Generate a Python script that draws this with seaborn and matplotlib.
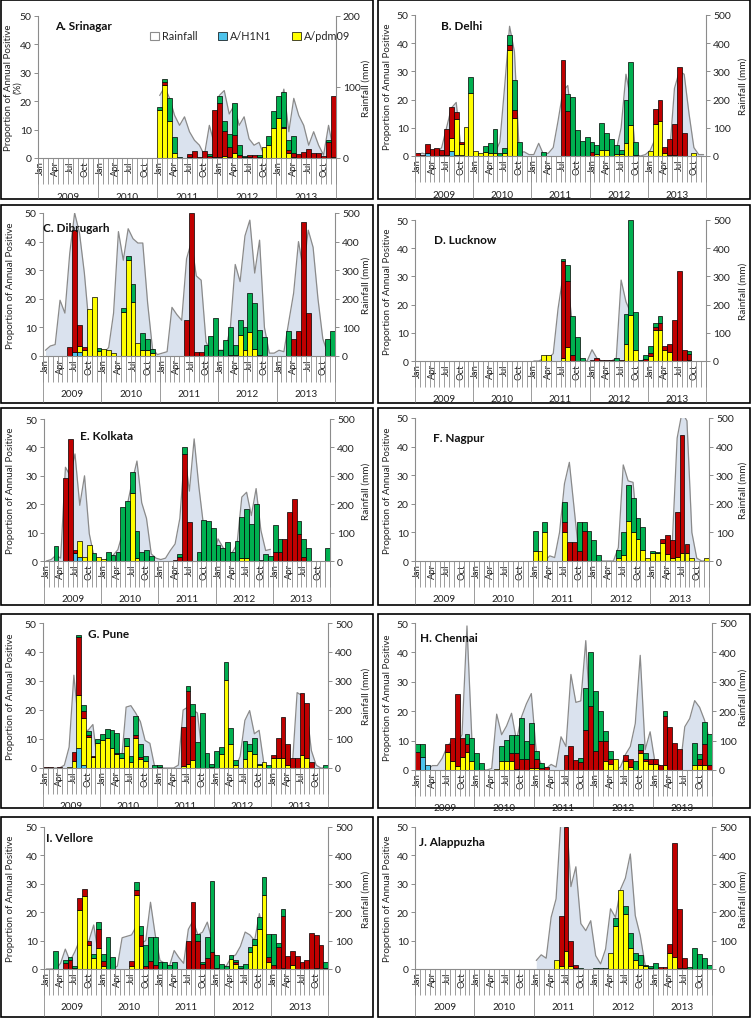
import numpy as np
import pandas as pd
import matplotlib
matplotlib.use("Agg")
import matplotlib.pyplot as plt
import seaborn as sns
from matplotlib.patches import Patch, Rectangle

nan = float("nan")

YEARS = ["2009", "2010", "2011", "2012", "2013"]
MONTH_TICKS = ["Jan", "", "", "Apr", "", "", "Jul", "", "", "Oct", "", ""]
SERIES = ["A/H1N1", "A/pdm09", "A/H3N2", "B"]
COLORS = {"A/H1N1": "#4DC3EC", "A/pdm09": "#FFFF00", "A/H3N2": "#C00000", "B": "#00B050"}
RAIN_FILL = "#DAE2EE"
RAIN_LINE = "#8A8A8A"
GREY = "#8C8C8C"

# ---------------- A. Srinagar ----------------
SRI_H1 = [0,0,0,0,0,0,0,0,0,0,0,0,
          0,0,0,0,0,0,0,0,0,0,0,0,
          0,0,0,0,0,0,0,0,0,0,0,0,
          0,0,0,0,0,0,0,0,0,0,0,0,
          0,0,0,0,0,0,0,0,0,0,0,0]
SRI_PDM = [0,0,0,0,0,0,0,0,0,0,0,0,
           0,0,0,0,0,0,0,0,0,0,0,0,
           16.8,25.8,13.0,1.7,0,0,0.3,0,0,0,0,0.5,
           0.5,0.8,0.5,1.8,0,0,0.5,0,0,3.8,4.5,10.5,
           14.0,10.7,1.7,0.3,0,0,0,0,0,0,0,0.5]
SRI_H3 = [0,0,0,0,0,0,0,0,0,0,0,0,
          0,0,0,0,0,0,0,0,0,0,0,0,
          0,0.8,0,0,0,0,1.2,2.3,0.5,2.4,0.7,16.5,
          19.0,8.7,3.5,6.2,1.0,0.3,0.5,1.2,0.5,0,0,0,
          0,0.3,1.1,1.5,1.5,2.2,3.0,1.8,1.8,0.8,5.5,21.3]
SRI_B = [0,0,0,0,0,0,0,0,0,0,0,0,
         0,0,0,0,0,0,0,0,0,0,0,0,
         1.2,1.3,8.1,5.8,0.5,0,0,0,0,0,0.8,0,
         2.5,3.5,4.5,11.3,3.5,0.5,0,0,0.5,0,3.3,6.2,
         7.8,12.2,3.5,6.0,0,0,0,0,0,0,0.8,0]
SRI_RAIN = [nan,nan,nan,nan,nan,nan,nan,nan,nan,nan,nan,nan,
            nan,nan,nan,nan,nan,nan,nan,nan,nan,nan,nan,nan,
            88,100,84,60,46,58,37,25,18,4,46,20,
            88,95,62,74,46,58,27,18,22,4,15,27,
            65,97,37,84,60,46,18,37,18,4,46,10]

# ---------------- B. Delhi ----------------
DEL_H1 = [0,0,1.0,0,0,0.5,0,1.8,0.5,0.5,0,0,
          0,0,0,0,0,0,0,0,0,0,0,0,
          0,0,0,0,0,0,0,0,0,0,0,0,
          0,0,0,0,0,0,0,0,0,0,0,0,
          0,0,0,0,0,0,0,0,0,0,0,0]
DEL_PDM = [0,0,0,0,0,0,0.5,4.7,12.5,3.8,10.3,22.5,
           1.8,1.2,1.5,1.0,1.0,0,1.0,37.5,13.5,0,0,0,
           0,0,0,0,0,0,0,0,0,0,0,0,
           0,0.8,2.0,2.0,0,0.8,0.8,4.7,11.0,0.5,0,0,
           1.8,11.3,12.5,1.0,0.5,0.5,0,0,0,1.0,0,0]
DEL_H3 = [1.0,0.5,3.3,2.5,2.8,1.5,9.1,11.0,2.5,0.7,0,0,
          0,0,0,0,0,0,0,2.0,2.7,0,0,0,
          0,0,0,0,0,0,34.0,16.0,0,0,0,0,
          1.5,0,0,0,0,0,0,0,0,0,0,0,
          0,5.3,7.2,2.2,5.7,11.0,31.5,8.0,0,0,0,0]
DEL_B = [0,0,0,0,0,0,0,0,0,0,0,5.6,
         0,0,2.0,3.7,8.5,1.0,1.8,3.3,10.8,4.8,0,0,
         0,0,1.5,0,0,0,0,6.0,21.0,9.3,5.2,6.6,
         3.3,3.2,9.8,6.0,6.2,3.2,1.5,15.3,22.5,4.3,0,0,
         0,0,0,0,0,0,0,0,0,0,0,0]
DEL_RAIN = [5,10,5,5,10,30,100,170,190,20,5,5,
            5,5,2,5,10,50,250,460,370,10,15,5,
            5,45,5,10,30,125,230,250,100,5,0,5,
            30,5,10,10,5,20,100,290,200,5,0,5,
            20,60,30,20,10,240,300,290,150,30,5,5]

# ---------------- C. Dibrugarh ----------------
DIB_H1 = [0,0,0,0,0,0,1.5,1.5,0,0,0,0,
          0,0,0,0,0,0,0,0,0,0,0,0,
          0,0,0,0,0,0,0,0,0,0,0,0,
          0,0,0,0,0,0,0,0,0,0,0,0,
          0,0,0,0,0,0,0,0,0,0,0,0]
DIB_PDM = [0,0,0,0,0,0,0,2.0,2.0,16.3,20.8,1.8,
           2.3,2.0,1.0,0,15.5,33.5,19.0,4.5,2.0,2.0,1.0,0,
           0,0,0,0,0,0,0,0,0,0,0,0,
           0,0,0.5,0.5,7.5,2.0,8.3,2.5,0.5,0,0,0,
           0,0,0,0,0,0,0,0,0,0,0,0]
DIB_H3 = [0,0,0,0,0,3.0,42.5,7.5,1.0,0,0,0,
          0,0,0,0,0,0,0,0,0,0,0,0,
          0,0,0,0,0,12.5,50.0,1.3,1.3,0,0,0,
          0,0,0,0,0,0,0,0,0,0,0,0,
          0,0,0,5.8,8.7,47.0,15.0,0,0,0,0,0]
DIB_B = [0,0,0,0,0,0,0,0,0,0,0,1.0,
         0,0,0,0,1.2,1.5,6.0,0,6.0,3.8,1.3,0,
         0,0,0,0,0,0,0,0,0,3.8,6.9,13.4,
         2.1,5.7,9.7,3.5,5.0,8.0,13.7,16.0,8.5,6.5,0,0,
         0,0,8.7,0,0,0,0,0,0,0,5.8,8.7]
DIB_RAIN = [20,35,40,195,150,360,500,430,290,100,10,10,
            10,30,150,435,335,445,410,395,395,185,25,5,
            10,15,170,145,125,340,400,280,265,50,10,20,
            20,20,100,320,260,420,475,290,405,100,10,10,
            20,15,120,220,400,300,440,380,200,60,10,5]

# ---------------- D. Lucknow ----------------
LKO_H1 = [0,0,0,0,0,0,0,0,0,0,0,0,
          0,0,0,0,0,0,0,0,0,0,0,0,
          0,0,0,0,0,0,0,0,0,0,0,0,
          0,0,0,0,0,0,0,0,0,0,0,0,
          0,0,0,0,0,0,0,0,0,0,0,0]
LKO_PDM = [0,0,0,0,0,0,0,0,0,0,0,0,
           0,0,0,0,0,0,0,0,0,0,0,0,
           0,0,2.0,2.0,0,0,1.0,5.0,0,0,0,0,
           0,0,0,0,0,0,0,6.0,16.3,3.8,0,0,
           1.8,11.0,11.0,4.0,3.3,0,0,0,0.5,0,0,0]
LKO_H3 = [0,0,0,0,0,0,0,0,0,0,0,0,
          0,0,0,0,0,0,0,0,0,0,0,0,
          0,0,0,0,0,0,34.3,23.5,2.0,0,0,0,
          0.5,1.0,0.5,0.5,0.5,0,0.3,0,0,0,0,0.8,
          1.2,1.0,2.5,1.3,2.7,14.5,32.0,4.0,2.0,0,0,0]
LKO_B = [0,0,0,0,0,0,0,0,0,0,0,0,
         0,0,0,0,0,0,0,0,0,0,0,0,
         0,0,0,0,0,0,0.7,5.5,14.0,8.5,1.0,0,
         0,0,0,0,0,1.0,0,10.7,33.7,13.6,0.5,1.4,
         2.3,1.6,2.5,0,0,0,0,0,0.9,0,0,0]
LKO_RAIN = [nan,nan,nan,nan,nan,nan,nan,nan,nan,nan,nan,nan,
            nan,nan,nan,nan,nan,nan,nan,nan,nan,nan,nan,nan,
            0,0,8,10,26,186,300,280,120,10,0,0,
            40,10,0,0,0,10,287,210,170,5,0,5,
            nan,nan,nan,nan,nan,nan,nan,nan,nan,nan,nan,nan]

# ---------------- E. Kolkata ----------------
KOL_H1 = [0,0,0,0,0,0,2.7,1.3,0,0,0,0,
          0,0,0,0,0,0,0,0,0,0,0,0,
          0,0,0,0,0,0,0,0,0,0,0,0,
          0,0,0,0,0,0,0,0,0,0,0,0,
          0,0,0,0,0,0,0,0,0,0,0,0]
KOL_PDM = [0,0,0,0,0,0,0,5.7,1.5,5.5,0,1.3,
           0.8,0,0,0,0,0,24.0,1.0,0,0,0,0,
           0,0,0,0,0,0,0,0,0,0,0,0,
           0,0,0,0,0,1.2,1.0,0,0,0,0,0,
           0,0,0,0,0,0,0,0,0,0,0,0]
KOL_H3 = [0,0,0,0,29.2,43.0,1.3,0,0,0,0,0,
          0,0,0,0,0,0,0,0,0,0,0,0,
          0,0,0,0.3,1.5,37.8,13.7,0,0,0,0,0,
          0,0,0,0,0,0,0,0,0,0,0,0,
          3.0,3.0,7.8,17.3,22.0,9.4,1.5,0,0,0,0,0]
KOL_B = [0,0,5.3,0,0,0,0,0,0,0,2.8,0,
         0,3.2,2.1,3.2,19.0,21.0,7.5,9.5,3.2,4.0,1.8,0,
         0,0,0,0,1.0,2.4,0,0,3.2,14.5,14.2,11.5,
         5.8,4.6,6.8,3.2,7.2,14.4,17.4,13.0,20.0,0.3,2.5,1.8,
         9.7,4.8,0,0,0,4.8,6.3,4.7,0,0,0,4.7]
KOL_RAIN = [0,5,20,10,330,300,377,196,300,96,14,0,
            0,10,20,40,100,200,280,352,205,150,25,10,
            5,10,37,60,150,380,246,430,260,120,10,5,
            78,49,20,30,60,225,242,160,255,108,37,41,
            nan,nan,nan,nan,nan,nan,nan,nan,nan,nan,nan,nan]

# ---------------- F. Nagpur ----------------
NAG_H1 = [0,0,0,0,0,0,0,0,0,0,0,0,
          0,0,0,0,0,0,0,0,0,0,0,0,
          0,0,0,0,0,0,0,0,0,0,0,0,
          0,0,0,0,0,0,0,0,0,0,0,0,
          0,0,0,0,0,0,0,0,0,0,0,0]
NAG_PDM = [0,0,0,0,0,0,0,0,0,0,0,0,
           0,0,0,0,0,0,0,0,0,0,0,0,
           3.5,3.5,10.3,0,0,0,10.3,0,0,0,0,0,
           0,0,0,0,0,1.0,2.0,14.0,10.0,7.8,3.8,1.0,
           2.8,2.8,6.2,2.5,1.0,1.5,2.8,2.8,1.0,0,0,1.0]
NAG_H3 = [0,0,0,0,0,0,0,0,0,0,0,0,
          0,0,0,0,0,0,0,0,0,0,0,0,
          0,0,0,0,0,0,3.4,6.8,6.8,3.5,10.5,0,
          0,0,0,0,0,0,0,0,0,0,0,0,
          0,0,1.6,6.5,6.3,15.5,41.2,3.2,0,0,0,0]
NAG_B = [0,0,0,0,0,0,0,0,0,0,0,0,
         0,0,0,0,0,0,0,0,0,0,0,0,
         7.0,0,3.4,0,0,0,7.0,0,0,10.2,3.2,10.5,
         7.2,2.0,0,0,0,2.8,8.0,12.5,12.0,7.4,8.0,0,
         0.7,0.2,0,0,0,0,0,0,0,0,0,0]
NAG_RAIN = [nan,nan,nan,nan,nan,nan,nan,nan,nan,nan,nan,nan,
            nan,nan,nan,nan,nan,nan,nan,nan,nan,nan,nan,nan,
            0,0,0,18,12,100,270,345,180,15,0,0,
            5,0,0,0,0,47,336,280,275,82,0,0,
            10,20,30,20,60,430,520,490,100,10,0,0]

# ---------------- G. Pune ----------------
PUN_H1 = [0,0,0,0,0,0,0,7.0,1.0,0,0,0,
          0,0,0,0,0,0,0,0,0,0,0,0,
          0,0,0,0,0,0,0,0,0,0,0,0,
          0,0,0,0,0,0,0,0,0,0,0,0,
          0,0,0,0,0,0,0,0,0,0,0,0]
PUN_PDM = [0,0,0,0,0,0.3,2.5,18.3,16.2,10.8,3.7,8.5,
           9.5,10.5,6.8,4.8,3.5,7.5,2.0,10.3,3.0,2.5,0,0,
           0.5,0,0,0,0,0.8,1.5,2.8,0,0,0,0,
           0,4.9,30.5,8.2,1.0,0,3.0,6.0,5.0,1.2,2.2,0,
           3.5,3.5,3.5,1.0,0,0,4.5,3.5,0,0,0,0]
PUN_H3 = [0.3,0.3,0,0.3,0,0,3.0,20.0,2.6,0.7,0.6,0,
          0,0,0,0.3,0,0,0,1.2,0.8,0,0,0,
          0,0,0,0,0,13.2,25.2,15.0,0,0,0,0.5,
          0,0,0,0,0,0,0,0,0,0,0,0,
          1.1,6.9,14.1,7.2,3.5,3.5,21.5,19.0,2.2,0,0,0]
PUN_B = [0,0,0,0,0,0,0,0.5,2.0,1.1,0,1.6,
         2.1,2.8,6.4,7.1,1.7,3.0,2.0,6.3,4.4,1.8,0,1.1,
         0.4,0,0,0,0,0,1.5,4.2,9.0,19.0,5.3,1.0,
         6.0,2.3,6.2,5.5,1.8,0,6.3,2.2,5.4,0.2,0,1.0,
         0,0,0,0,0,0,0,0,0,0,0,1.0]
PUN_RAIN = [0,0,0,0,10,72,320,150,130,130,150,15,
            0,0,0,0,20,210,215,190,160,95,85,5,
            0,0,0,0,10,200,210,200,190,50,5,0,
            0,0,0,0,0,40,164,198,118,130,15,0,
            0,0,0,0,10,260,250,200,60,10,0,0]

# ---------------- H. Chennai ----------------
CHE_H1 = [0,4.5,1.8,0,0,0,0,0,0,0,0,0,
          0,0,0,0,0,0,0,0,0,0,0,0,
          0,0,0,0,0,0,0,0,0,0,0,0,
          0,0,0,0,0,0,0,0,0,0,0,0,
          0,0,0,0,0,0,0,0,0,0,0,0]
CHE_PDM = [0,0,0,0,0,0,6.0,3.0,1.5,4.3,6.0,3.0,
           0,0,0,0,0.5,3.0,3.0,3.0,0.3,0,0,0.7,
           0.7,0,0,0,0,0,0,0,0,0,0,0,
           0,0,3.2,2.0,3.8,0,3.0,1.0,0,5.8,3.0,2.1,
           1.9,0,1.6,0,0,0,0,0,1.6,1.6,1.6,0]
CHE_H3 = [6.0,0,0,0,0,0,3.0,7.8,24.5,6.5,3.0,0,
          0,0,0,0,0,0,0,2.8,5.5,3.9,3.9,8.2,
          3.2,0.8,1.0,0,0,0,5.2,8.0,3.5,2.8,13.7,21.7,
          6.6,9.7,6.5,1.8,0,0,2.2,2.9,0,1.1,0.9,1.8,
          2.0,1.6,16.6,14.7,9.1,7.3,0,0,0,2.3,7.2,1.6]
CHE_B = [3.0,4.5,0,0,0,0,0,0,0,0,3.3,8.0,
         5.8,2.5,0,0,0,5.0,7.3,6.2,6.2,13.8,5.8,7.1,
         2.7,1.6,0,0,0,0,0,0,0,1.4,14.3,18.3,
         20.4,10.3,3.6,2.8,0,0,0,0,3.2,1.9,1.9,0,
         0,0,1.8,0,0,0,0,0,7.5,1.7,7.5,10.8]
CHE_RAIN = [0,0,0,15,15,40,80,100,90,120,490,100,
            10,0,0,5,190,120,150,193,100,180,225,260,
            60,20,5,19,10,113,80,325,230,235,440,150,
            40,5,5,5,0,10,52,80,158,390,69,130,
            24,15,0,5,0,0,147,175,236,213,169,100]

# ---------------- I. Vellore ----------------
VEL_H1 = [0,0,0,0,0,0,0.5,0,0,0,0,0,
          0,0,0,0,0,0,0,0,0,0,0,0,
          0,0,0,0,0,0,0,0,0,0,0,0,
          0,0,0,0,0,0,0,0,0,0,0,0,
          0,0,0,0,0,0,0,0,0,0,0,0]
VEL_PDM = [0,0,0,0,0,0,0,20.6,25.8,8.5,4.0,7.5,
           1.0,0,0,0,0,0,1.0,26.0,8.0,0,0,0,
           0,0,0,0,0,0,0,0,0,0,0,0,
           0.3,0,0,3.5,1.8,0.5,0,5.9,8.5,14.0,26.0,2.4,
           0,0,0.5,0,1.5,0,0,0,0,0.3,0,0]
VEL_H3 = [0,0,0,0,2.0,3.2,0,4.4,2.2,1.3,0,6.5,
          1.7,0,0,0,0,0,1.7,1.7,4.0,1.2,2.7,1.4,
          0,0,0,0,0,0,10.0,23.5,10.0,1.6,3.8,6.0,
          0,0,0,0,0.5,0,0,0,0,0,0,1.8,
          1.5,7.8,18.3,4.6,4.9,4.6,2.4,3.0,12.7,11.7,8.6,0.5]
VEL_B = [0,0,6.3,0,1.0,1.0,0.5,0,0,0,1.3,2.4,
         2.6,11.3,4.2,0,0,0,0,3.0,3.2,7.1,8.5,9.8,
         2.4,2.4,1.4,2.4,0,0,0,0,2.3,0.8,7.4,25.0,
         4.7,1.8,1.2,1.5,0.9,0.5,1.8,1.9,2.0,4.3,6.5,8.1,
         11.0,1.5,2.2,0,0,0,0,0,0,0,0,1.9]
VEL_RAIN = [0,0,0,20,70,28,60,100,80,100,155,50,
            10,0,0,10,110,115,120,150,90,100,235,120,
            30,20,10,65,40,20,140,170,120,130,165,100,
            10,10,10,40,50,80,130,120,100,195,100,20,
            nan,nan,nan,nan,nan,nan,nan,nan,nan,nan,nan,nan]

# ---------------- J. Alappuzha ----------------
ALA_H1 = [0,0,0,0,0,0,0,0,0,0,0,0,
          0,0,0,0,0,0,0,0,0,0,0,0,
          0,0,0,0,0,0,0,0,0,0,0,0,
          0,0,0,0,0,0,0,0,0,0,0,0,
          0,0,0,0,0,0,0,0,0,0,0,0]
ALA_PDM = [0,0,0,0,0,0,0,0,0,0,0,0,
           0,0,0,0,0,0,0,0,0,0,0,0,
           0,0,0,0,3.3,1.2,6.5,1.0,0.3,0,0,0,
           0,0,0,5.5,15.0,27.7,19.3,7.5,3.3,1.5,1.0,0.5,
           0,0,0,5.8,4.2,0.5,0.5,0,0,0,0,0]
ALA_H3 = [0,0,0,0,0,0,0,0,0,0,0,0,
          0,0,0,0,0,0,0,0,0,0,0,0,
          0,0,0,0,0,17.5,43.5,9.0,1.2,0,0,0,
          0,0,0,0,0,0,0,0,0,0,0,0,
          0,0.8,0.8,3.0,40.3,20.7,3.2,0,0,0,0,0]
ALA_B = [0,0,0,0,0,0,0,0,0,0,0,0,
         0,0,0,0,0,0,0,0,0,0,0,0,
         0,0,0,0,0,0,0,0,0,0.5,0,0,
         0.5,0.5,0.5,0,3.0,0,3.0,5.0,2.5,3.5,0.5,0.5,
         2.2,0,0,0,0,0,0,0.7,7.3,5.2,3.7,1.5]
ALA_RAIN = [nan,nan,nan,nan,nan,nan,nan,nan,nan,nan,nan,nan,
            nan,nan,nan,nan,nan,nan,nan,nan,nan,nan,nan,nan,
            30,50,38,182,247,530,560,290,360,160,135,170,
            47,18,70,212,182,280,320,405,188,118,12,0,
            nan,nan,nan,nan,nan,nan,nan,nan,nan,nan,nan,nan]

PANELS = [
    ("A. Srinagar", SRI_H1, SRI_PDM, SRI_H3, SRI_B, SRI_RAIN, 200),
    ("B. Delhi", DEL_H1, DEL_PDM, DEL_H3, DEL_B, DEL_RAIN, 500),
    ("C. Dibrugarh", DIB_H1, DIB_PDM, DIB_H3, DIB_B, DIB_RAIN, 500),
    ("D. Lucknow", LKO_H1, LKO_PDM, LKO_H3, LKO_B, LKO_RAIN, 500),
    ("E. Kolkata", KOL_H1, KOL_PDM, KOL_H3, KOL_B, KOL_RAIN, 500),
    ("F. Nagpur", NAG_H1, NAG_PDM, NAG_H3, NAG_B, NAG_RAIN, 500),
    ("G. Pune", PUN_H1, PUN_PDM, PUN_H3, PUN_B, PUN_RAIN, 500),
    ("H. Chennai", CHE_H1, CHE_PDM, CHE_H3, CHE_B, CHE_RAIN, 500),
    ("I. Vellore", VEL_H1, VEL_PDM, VEL_H3, VEL_B, VEL_RAIN, 500),
    ("J. Alappuzha", ALA_H1, ALA_PDM, ALA_H3, ALA_B, ALA_RAIN, 500),
]

# ---------------- layout (pixels) ----------------
W, H = 752, 1020
ROWS = [(1, 200), (206, 404), (409, 606), (615, 809), (818, 1018)]
COLS = [(1, 373), (378, 750)]
AXES_PX = [  # left, top, right, bottom
    (38, 17, 336, 159), (415, 16, 706, 157),
    (43, 214, 335, 357), (415, 221, 706, 362),
    (44, 420, 330, 562), (415, 419, 709, 562),
    (43, 624, 328, 769), (415, 624, 712, 771),
    (44, 828, 328, 970), (415, 828, 712, 970),
]
TITLE_PX = [(55, 27), (441, 27), (43, 229), (434, 240), (80, 437),
            (433, 438), (88, 634), (420, 639), (46, 839), (419, 843)]

sns.set_theme(style="white")
plt.rcParams["font.family"] = ["Lato", "DejaVu Sans"]
plt.rcParams["axes.linewidth"] = 0.8

fig = plt.figure(figsize=(W / 100, H / 100), dpi=100)
fig.patch.set_facecolor("white")

months = np.arange(60)
month_labels = MONTH_TICKS * 5

for i, (title, h1, pdm, h3, bb, rain, rmax) in enumerate(PANELS):
    for arr in (h1, pdm, h3, bb, rain):
        assert len(arr) == 60, (title, len(arr))
    row, col = divmod(i, 2)
    bx0, bx1 = COLS[col]
    by0, by1 = ROWS[row]
    l, t, r, b = AXES_PX[i]
    hpx = b - t
    ax = fig.add_axes([l / W, 1 - b / H, (r - l) / W, hpx / H])
    ax2 = ax.twinx()

    # rainfall area (right axis)
    rain_arr = np.array(rain, dtype=float)
    ax2.fill_between(months, 0, rain_arr, color=RAIN_FILL, lw=0)
    sns.lineplot(x=months, y=rain_arr, ax=ax2, color=RAIN_LINE, lw=0.9)
    ax2.set_ylim(0, rmax)
    ax2.set_yticks(range(0, rmax + 1, 100))

    # stacked bars
    df = pd.DataFrame({
        "month": np.tile(months, 4),
        "series": np.repeat(SERIES, 60),
        "value": np.concatenate([h1, pdm, h3, bb]).astype(float),
    })
    sns.histplot(data=df, x="month", weights="value", hue="series",
                 hue_order=SERIES[::-1], multiple="stack", discrete=True,
                 shrink=1.0, palette=COLORS, edgecolor="black", linewidth=0.5,
                 alpha=1, legend=False, ax=ax)
    for p in ax.patches:
        if p.get_height() < 1e-6:
            p.set_visible(False)

    ax.set_zorder(ax2.get_zorder() + 1)
    ax.patch.set_visible(False)
    ax.set_xlim(-0.5, 59.5)
    ax.set_ylim(0, 50)
    ax.set_yticks(range(0, 51, 10))
    ax.set_xticks(months)
    ax.set_xticklabels(month_labels, rotation=90, fontsize=6.8, color="#222222")
    ax.tick_params(axis="x", length=0, pad=1.5)
    ax.tick_params(axis="y", length=3, width=0.7, color=GREY, labelsize=7.5,
                   pad=1.5, direction="out", labelcolor="#222222")
    ax2.tick_params(axis="y", length=3, width=0.7, color=GREY, labelsize=7.5,
                    pad=2, direction="out", labelcolor="#222222")
    ax.set_xlabel("")
    ax.set_ylabel("")
    ax2.set_xlabel("")
    ax2.set_ylabel("")
    for s in ("top", "right"):
        ax.spines[s].set_visible(False)
    for s in ("top", "left", "bottom"):
        ax2.spines[s].set_visible(False)
    for s in ("left", "bottom"):
        ax.spines[s].set_color(GREY)
    ax2.spines["right"].set_color(GREY)
    ax.grid(False)
    ax2.grid(False)

    # category separators
    xt = ax.get_xaxis_transform()
    ax.vlines(np.arange(-0.5, 60, 1), 0, -26 / hpx, transform=xt,
              colors=GREY, lw=0.6, clip_on=False)
    ylen = (by1 - b - 1) / hpx
    ax.vlines([-0.5, 11.5, 23.5, 35.5, 47.5, 59.5], 0, -ylen, transform=xt,
              colors=GREY, lw=0.6, clip_on=False)
    for k, yr in enumerate(YEARS):
        ax.text(12 * k + 5.5, -38 / hpx, yr, transform=xt, ha="center",
                va="center", fontsize=7.2, color="#222222", clip_on=False)

    # titles and labels
    tx, ty = TITLE_PX[i]
    fig.text(tx / W, 1 - ty / H, title, fontsize=8.5, fontweight="bold",
             ha="left", va="center", color="#111111")
    ylab = "Proportion of Annual Positive\n(%)" if i == 0 else "Proportion of Annual Positive"
    fig.text((bx0 + (12 if i == 0 else 10)) / W, 1 - (t + b) / 2 / H, ylab,
             rotation=90, ha="center", va="center", fontsize=7,
             color="#222222", multialignment="center", linespacing=0.95)
    fig.text((bx1 - 7) / W, 1 - (t + b) / 2 / H, "Rainfall (mm)",
             rotation=90, ha="center", va="center", fontsize=7.2, color="#222222")

    # panel border
    fig.add_artist(Rectangle((bx0 / W, 1 - by1 / H), (bx1 - bx0) / W,
                             (by1 - by0) / H, transform=fig.transFigure,
                             fill=False, ec="black", lw=1.2))

    if i == 0:
        handles = [Patch(facecolor="white", edgecolor=GREY, lw=0.8),
                   Patch(facecolor=COLORS["A/H1N1"], edgecolor="black", lw=0.5),
                   Patch(facecolor=COLORS["A/pdm09"], edgecolor="black", lw=0.5)]
        fig.legend(handles, ["Rainfall", "A/H1N1", "A/pdm09"], ncol=3,
                   loc="center left", bbox_to_anchor=(150 / W, 1 - 37 / H),
                   frameon=False, fontsize=7.8, handlelength=0.8,
                   handleheight=0.8, handletextpad=0.3, columnspacing=1.9,
                   borderpad=0, borderaxespad=0)

fig.savefig("out.png", dpi=100, facecolor="white")
